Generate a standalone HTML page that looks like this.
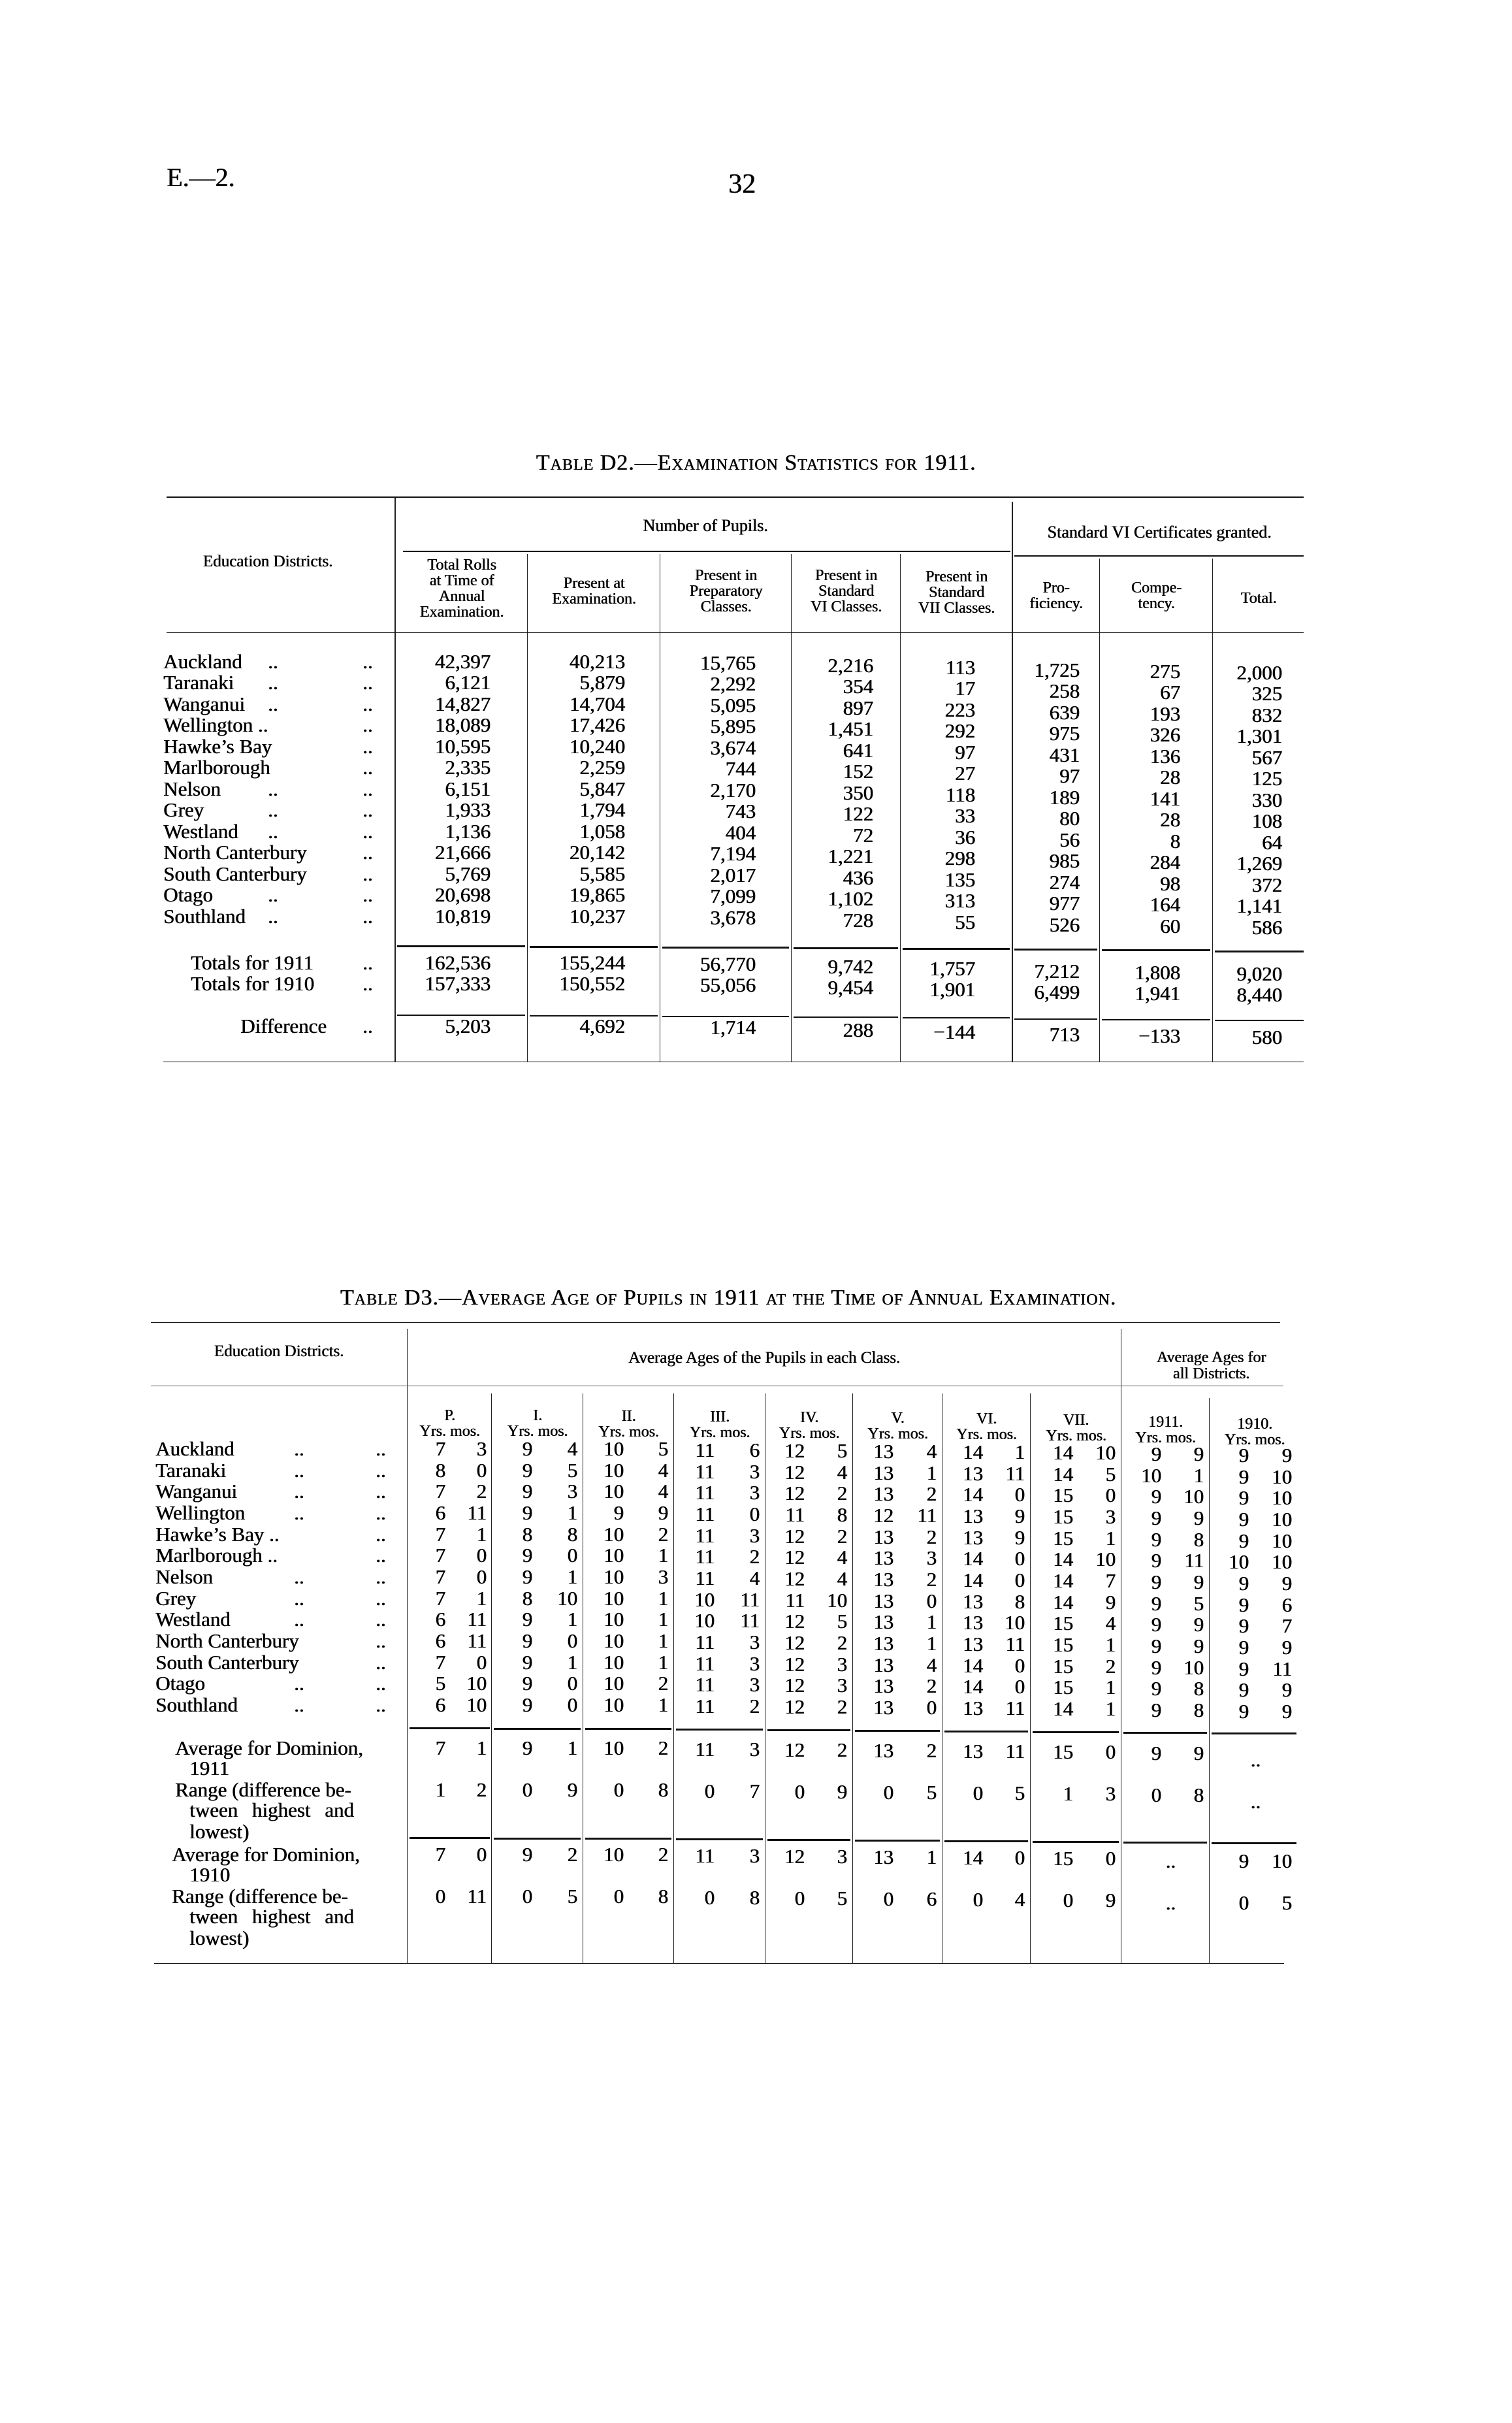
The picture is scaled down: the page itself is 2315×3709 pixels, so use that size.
<!DOCTYPE html>
<html><head><meta charset="utf-8"><style>
body{margin:0;background:#fff}
#p{position:relative;width:2315px;height:3709px;overflow:hidden;background:#fff;font-family:"Liberation Serif",serif;color:#000;text-shadow:0.6px 0 0 #000}
#p div,#p span{position:absolute;white-space:nowrap}
.r{height:32px;line-height:32px;font-size:31px;left:0;width:2315px}
.h{font-size:24px;line-height:24px;text-align:center}
.hl{background:#111;height:2px}
.vl{background:#222;width:2px}
.sc{font-variant:small-caps}
.a1{right:1564px}.a2{right:1358px}.a3{right:1158px;top:2px}.a4{right:978px;top:6px}.a5{right:822px;top:9px}.a6{right:662px;top:13px}.a7{right:508px;top:15px}.a8{right:352px;top:17px}
.y0{right:1633px}.m0{right:1570px}
.y1{right:1500px}.m1{right:1431px}
.y2{right:1360px}.m2{right:1292px}
.y3{right:1221px;top:2px}.m3{right:1152px;top:2px}
.y4{right:1083px;top:3px}.m4{right:1018px;top:3px}
.y5{right:947px;top:4px}.m5{right:881px;top:4px}
.y6{right:810px;top:5px}.m6{right:746px;top:5px}
.y7{right:672px;top:6px}.m7{right:607px;top:6px}
.y8{right:537px;top:8px}.m8{right:472px;top:8px}
.y9{right:403px;top:10px}.m9{right:337px;top:10px}
</style></head><body><div id="p">
<div style="left:255px;top:248px;font-size:40px">E.—2.</div>
<div style="left:1115px;top:258px;font-size:42px">32</div>

<div class="sc" style="left:0;width:2315px;text-align:center;top:690px;font-size:34px;letter-spacing:1px">Table D2.—Examination Statistics for 1911.</div>
<div class="hl" style="left:255px;width:1741px;top:760px"></div>
<div class="vl" style="left:604px;top:762px;height:864px"></div>
<div class="vl" style="left:1549px;top:768px;height:858px"></div>
<div class="h" style="left:920px;width:320px;top:793px;font-size:26px">Number of Pupils.</div>
<div class="h" style="left:1550px;width:450px;top:803px;font-size:26px">Standard VI Certificates granted.</div>
<div class="hl" style="left:617px;width:930px;top:843px;height:2px"></div>
<div class="hl" style="left:1553px;width:443px;top:850px;height:2px"></div>
<div class="h" style="left:255px;width:310px;top:848px;font-size:25px">Education Districts.</div>
<div class="h" style="left:606px;width:202px;top:853px">Total Rolls<br>at Time of<br>Annual<br>Examination.</div>
<div class="h" style="left:808px;width:203px;top:881px">Present at<br>Examination.</div>
<div class="h" style="left:1011px;width:201px;top:869px">Present in<br>Preparatory<br>Classes.</div>
<div class="h" style="left:1212px;width:167px;top:869px">Present in<br>Standard<br>VI Classes.</div>
<div class="h" style="left:1379px;width:171px;top:871px">Present in<br>Standard<br>VII Classes.</div>
<div class="h" style="left:1550px;width:134px;top:888px">Pro-<br>ficiency.</div>
<div class="h" style="left:1684px;width:173px;top:888px">Compe-<br>tency.</div>
<div class="h" style="left:1857px;width:140px;top:904px">Total.</div>
<div class="vl" style="left:807px;top:848px;height:778px;width:1px"></div>
<div class="vl" style="left:1010px;top:848px;height:778px;width:1px"></div>
<div class="vl" style="left:1211px;top:848px;height:778px;width:1px"></div>
<div class="vl" style="left:1378px;top:848px;height:778px;width:1px"></div>
<div class="vl" style="left:1683px;top:855px;height:771px;width:1px"></div>
<div class="vl" style="left:1856px;top:855px;height:771px;width:1px"></div>
<div class="hl" style="left:255px;width:1741px;top:968px;height:1px"></div>

<div class="r" style="top:997px"><span style="left:250px">Auckland</span><span style="left:410px">..</span><span style="left:555px">..</span><span class="a1">42,397</span><span class="a2">40,213</span><span class="a3">15,765</span><span class="a4">2,216</span><span class="a5">113</span><span class="a6">1,725</span><span class="a7">275</span><span class="a8">2,000</span></div>
<div class="r" style="top:1029px"><span style="left:250px">Taranaki</span><span style="left:410px">..</span><span style="left:555px">..</span><span class="a1">6,121</span><span class="a2">5,879</span><span class="a3">2,292</span><span class="a4">354</span><span class="a5">17</span><span class="a6">258</span><span class="a7">67</span><span class="a8">325</span></div>
<div class="r" style="top:1062px"><span style="left:250px">Wanganui</span><span style="left:410px">..</span><span style="left:555px">..</span><span class="a1">14,827</span><span class="a2">14,704</span><span class="a3">5,095</span><span class="a4">897</span><span class="a5">223</span><span class="a6">639</span><span class="a7">193</span><span class="a8">832</span></div>
<div class="r" style="top:1094px"><span style="left:250px">Wellington ..</span><span style="left:555px">..</span><span class="a1">18,089</span><span class="a2">17,426</span><span class="a3">5,895</span><span class="a4">1,451</span><span class="a5">292</span><span class="a6">975</span><span class="a7">326</span><span class="a8">1,301</span></div>
<div class="r" style="top:1127px"><span style="left:250px">Hawke’s Bay</span><span style="left:555px">..</span><span class="a1">10,595</span><span class="a2">10,240</span><span class="a3">3,674</span><span class="a4">641</span><span class="a5">97</span><span class="a6">431</span><span class="a7">136</span><span class="a8">567</span></div>
<div class="r" style="top:1159px"><span style="left:250px">Marlborough</span><span style="left:555px">..</span><span class="a1">2,335</span><span class="a2">2,259</span><span class="a3">744</span><span class="a4">152</span><span class="a5">27</span><span class="a6">97</span><span class="a7">28</span><span class="a8">125</span></div>
<div class="r" style="top:1192px"><span style="left:250px">Nelson</span><span style="left:410px">..</span><span style="left:555px">..</span><span class="a1">6,151</span><span class="a2">5,847</span><span class="a3">2,170</span><span class="a4">350</span><span class="a5">118</span><span class="a6">189</span><span class="a7">141</span><span class="a8">330</span></div>
<div class="r" style="top:1224px"><span style="left:250px">Grey</span><span style="left:410px">..</span><span style="left:555px">..</span><span class="a1">1,933</span><span class="a2">1,794</span><span class="a3">743</span><span class="a4">122</span><span class="a5">33</span><span class="a6">80</span><span class="a7">28</span><span class="a8">108</span></div>
<div class="r" style="top:1257px"><span style="left:250px">Westland</span><span style="left:410px">..</span><span style="left:555px">..</span><span class="a1">1,136</span><span class="a2">1,058</span><span class="a3">404</span><span class="a4">72</span><span class="a5">36</span><span class="a6">56</span><span class="a7">8</span><span class="a8">64</span></div>
<div class="r" style="top:1289px"><span style="left:250px">North Canterbury</span><span style="left:555px">..</span><span class="a1">21,666</span><span class="a2">20,142</span><span class="a3">7,194</span><span class="a4">1,221</span><span class="a5">298</span><span class="a6">985</span><span class="a7">284</span><span class="a8">1,269</span></div>
<div class="r" style="top:1322px"><span style="left:250px">South Canterbury</span><span style="left:555px">..</span><span class="a1">5,769</span><span class="a2">5,585</span><span class="a3">2,017</span><span class="a4">436</span><span class="a5">135</span><span class="a6">274</span><span class="a7">98</span><span class="a8">372</span></div>
<div class="r" style="top:1354px"><span style="left:250px">Otago</span><span style="left:410px">..</span><span style="left:555px">..</span><span class="a1">20,698</span><span class="a2">19,865</span><span class="a3">7,099</span><span class="a4">1,102</span><span class="a5">313</span><span class="a6">977</span><span class="a7">164</span><span class="a8">1,141</span></div>
<div class="r" style="top:1387px"><span style="left:250px">Southland</span><span style="left:410px">..</span><span style="left:555px">..</span><span class="a1">10,819</span><span class="a2">10,237</span><span class="a3">3,678</span><span class="a4">728</span><span class="a5">55</span><span class="a6">526</span><span class="a7">60</span><span class="a8">586</span></div>

<div class="hl" style="left:608px;width:196px;top:1447px;height:3px"></div>
<div class="hl" style="left:811px;width:196px;top:1448px;height:3px"></div>
<div class="hl" style="left:1014px;width:194px;top:1449px;height:3px"></div>
<div class="hl" style="left:1215px;width:160px;top:1450px;height:3px"></div>
<div class="hl" style="left:1382px;width:164px;top:1451px;height:3px"></div>
<div class="hl" style="left:1553px;width:127px;top:1452px;height:3px"></div>
<div class="hl" style="left:1687px;width:166px;top:1453px;height:3px"></div>
<div class="hl" style="left:1860px;width:136px;top:1455px;height:3px"></div>

<div class="r" style="top:1458px"><span style="left:292px">Totals for 1911</span><span style="left:555px">..</span><span class="a1">162,536</span><span class="a2">155,244</span><span class="a3">56,770</span><span class="a4">9,742</span><span class="a5">1,757</span><span class="a6">7,212</span><span class="a7">1,808</span><span class="a8">9,020</span></div>
<div class="r" style="top:1490px"><span style="left:292px">Totals for 1910</span><span style="left:555px">..</span><span class="a1">157,333</span><span class="a2">150,552</span><span class="a3">55,056</span><span class="a4">9,454</span><span class="a5">1,901</span><span class="a6">6,499</span><span class="a7">1,941</span><span class="a8">8,440</span></div>

<div class="hl" style="left:608px;width:196px;top:1553px"></div>
<div class="hl" style="left:811px;width:196px;top:1554px"></div>
<div class="hl" style="left:1014px;width:194px;top:1555px"></div>
<div class="hl" style="left:1215px;width:160px;top:1556px"></div>
<div class="hl" style="left:1382px;width:164px;top:1557px"></div>
<div class="hl" style="left:1553px;width:127px;top:1559px"></div>
<div class="hl" style="left:1687px;width:166px;top:1560px"></div>
<div class="hl" style="left:1860px;width:136px;top:1561px"></div>

<div class="r" style="top:1555px"><span style="left:368px">Difference</span><span style="left:555px">..</span><span class="a1">5,203</span><span class="a2">4,692</span><span class="a3">1,714</span><span class="a4">288</span><span class="a5">−144</span><span class="a6">713</span><span class="a7">−133</span><span class="a8">580</span></div>
<div class="hl" style="left:250px;width:1746px;top:1625px;height:1px"></div>

<div class="sc" style="left:0;width:2230px;text-align:center;top:1968px;font-size:34px;letter-spacing:1px">Table D3.—Average Age of Pupils in 1911 at the Time of Annual Examination.</div>
<div class="hl" style="left:231px;width:1729px;top:2024px;height:1px"></div>
<div class="vl" style="left:623px;top:2034px;height:972px;width:1px"></div>
<div class="vl" style="left:1716px;top:2034px;height:972px;width:1px"></div>
<div class="h" style="left:231px;width:392px;top:2057px;font-size:25px">Education Districts.</div>
<div class="h" style="left:624px;width:1092px;top:2067px;font-size:25px">Average Ages of the Pupils in each Class.</div>
<div class="h" style="left:1717px;width:275px;top:2066px;font-size:24px;line-height:25px">Average Ages for<br>all Districts.</div>
<div class="hl" style="left:231px;width:1734px;top:2121px;height:1px;background:#555"></div>

<div class="vl" style="left:752px;top:2133px;height:872px;width:1px"></div>
<div class="vl" style="left:892px;top:2133px;height:872px;width:1px"></div>
<div class="vl" style="left:1031px;top:2133px;height:872px;width:1px"></div>
<div class="vl" style="left:1171px;top:2133px;height:872px;width:1px"></div>
<div class="vl" style="left:1305px;top:2133px;height:872px;width:1px"></div>
<div class="vl" style="left:1442px;top:2133px;height:872px;width:1px"></div>
<div class="vl" style="left:1577px;top:2133px;height:872px;width:1px"></div>
<div class="vl" style="left:1851px;top:2140px;height:865px;width:1px"></div>

<div class="h" style="left:624px;width:129px;top:2155px">P.<br>Yrs. mos.</div>
<div class="h" style="left:753px;width:140px;top:2155px">I.<br>Yrs. mos.</div>
<div class="h" style="left:893px;width:139px;top:2156px">II.<br>Yrs. mos.</div>
<div class="h" style="left:1032px;width:140px;top:2157px">III.<br>Yrs. mos.</div>
<div class="h" style="left:1172px;width:134px;top:2158px">IV.<br>Yrs. mos.</div>
<div class="h" style="left:1306px;width:137px;top:2159px">V.<br>Yrs. mos.</div>
<div class="h" style="left:1443px;width:135px;top:2160px">VI.<br>Yrs. mos.</div>
<div class="h" style="left:1578px;width:139px;top:2162px">VII.<br>Yrs. mos.</div>
<div class="h" style="left:1717px;width:135px;top:2165px">1911.<br>Yrs. mos.</div>
<div class="h" style="left:1852px;width:138px;top:2168px">1910.<br>Yrs. mos.</div>

<div class="r" style="top:2202px"><span style="left:238px">Auckland</span><span style="left:450px">..</span><span style="left:575px">..</span><span class="y0">7</span><span class="m0">3</span><span class="y1">9</span><span class="m1">4</span><span class="y2">10</span><span class="m2">5</span><span class="y3">11</span><span class="m3">6</span><span class="y4">12</span><span class="m4">5</span><span class="y5">13</span><span class="m5">4</span><span class="y6">14</span><span class="m6">1</span><span class="y7">14</span><span class="m7">10</span><span class="y8">9</span><span class="m8">9</span><span class="y9">9</span><span class="m9">9</span></div>
<div class="r" style="top:2235px"><span style="left:238px">Taranaki</span><span style="left:450px">..</span><span style="left:575px">..</span><span class="y0">8</span><span class="m0">0</span><span class="y1">9</span><span class="m1">5</span><span class="y2">10</span><span class="m2">4</span><span class="y3">11</span><span class="m3">3</span><span class="y4">12</span><span class="m4">4</span><span class="y5">13</span><span class="m5">1</span><span class="y6">13</span><span class="m6">11</span><span class="y7">14</span><span class="m7">5</span><span class="y8">10</span><span class="m8">1</span><span class="y9">9</span><span class="m9">10</span></div>
<div class="r" style="top:2267px"><span style="left:238px">Wanganui</span><span style="left:450px">..</span><span style="left:575px">..</span><span class="y0">7</span><span class="m0">2</span><span class="y1">9</span><span class="m1">3</span><span class="y2">10</span><span class="m2">4</span><span class="y3">11</span><span class="m3">3</span><span class="y4">12</span><span class="m4">2</span><span class="y5">13</span><span class="m5">2</span><span class="y6">14</span><span class="m6">0</span><span class="y7">15</span><span class="m7">0</span><span class="y8">9</span><span class="m8">10</span><span class="y9">9</span><span class="m9">10</span></div>
<div class="r" style="top:2300px"><span style="left:238px">Wellington</span><span style="left:450px">..</span><span style="left:575px">..</span><span class="y0">6</span><span class="m0">11</span><span class="y1">9</span><span class="m1">1</span><span class="y2">9</span><span class="m2">9</span><span class="y3">11</span><span class="m3">0</span><span class="y4">11</span><span class="m4">8</span><span class="y5">12</span><span class="m5">11</span><span class="y6">13</span><span class="m6">9</span><span class="y7">15</span><span class="m7">3</span><span class="y8">9</span><span class="m8">9</span><span class="y9">9</span><span class="m9">10</span></div>
<div class="r" style="top:2333px"><span style="left:238px">Hawke’s Bay ..</span><span style="left:575px">..</span><span class="y0">7</span><span class="m0">1</span><span class="y1">8</span><span class="m1">8</span><span class="y2">10</span><span class="m2">2</span><span class="y3">11</span><span class="m3">3</span><span class="y4">12</span><span class="m4">2</span><span class="y5">13</span><span class="m5">2</span><span class="y6">13</span><span class="m6">9</span><span class="y7">15</span><span class="m7">1</span><span class="y8">9</span><span class="m8">8</span><span class="y9">9</span><span class="m9">10</span></div>
<div class="r" style="top:2365px"><span style="left:238px">Marlborough ..</span><span style="left:575px">..</span><span class="y0">7</span><span class="m0">0</span><span class="y1">9</span><span class="m1">0</span><span class="y2">10</span><span class="m2">1</span><span class="y3">11</span><span class="m3">2</span><span class="y4">12</span><span class="m4">4</span><span class="y5">13</span><span class="m5">3</span><span class="y6">14</span><span class="m6">0</span><span class="y7">14</span><span class="m7">10</span><span class="y8">9</span><span class="m8">11</span><span class="y9">10</span><span class="m9">10</span></div>
<div class="r" style="top:2398px"><span style="left:238px">Nelson</span><span style="left:450px">..</span><span style="left:575px">..</span><span class="y0">7</span><span class="m0">0</span><span class="y1">9</span><span class="m1">1</span><span class="y2">10</span><span class="m2">3</span><span class="y3">11</span><span class="m3">4</span><span class="y4">12</span><span class="m4">4</span><span class="y5">13</span><span class="m5">2</span><span class="y6">14</span><span class="m6">0</span><span class="y7">14</span><span class="m7">7</span><span class="y8">9</span><span class="m8">9</span><span class="y9">9</span><span class="m9">9</span></div>
<div class="r" style="top:2431px"><span style="left:238px">Grey</span><span style="left:450px">..</span><span style="left:575px">..</span><span class="y0">7</span><span class="m0">1</span><span class="y1">8</span><span class="m1">10</span><span class="y2">10</span><span class="m2">1</span><span class="y3">10</span><span class="m3">11</span><span class="y4">11</span><span class="m4">10</span><span class="y5">13</span><span class="m5">0</span><span class="y6">13</span><span class="m6">8</span><span class="y7">14</span><span class="m7">9</span><span class="y8">9</span><span class="m8">5</span><span class="y9">9</span><span class="m9">6</span></div>
<div class="r" style="top:2463px"><span style="left:238px">Westland</span><span style="left:450px">..</span><span style="left:575px">..</span><span class="y0">6</span><span class="m0">11</span><span class="y1">9</span><span class="m1">1</span><span class="y2">10</span><span class="m2">1</span><span class="y3">10</span><span class="m3">11</span><span class="y4">12</span><span class="m4">5</span><span class="y5">13</span><span class="m5">1</span><span class="y6">13</span><span class="m6">10</span><span class="y7">15</span><span class="m7">4</span><span class="y8">9</span><span class="m8">9</span><span class="y9">9</span><span class="m9">7</span></div>
<div class="r" style="top:2496px"><span style="left:238px">North Canterbury</span><span style="left:575px">..</span><span class="y0">6</span><span class="m0">11</span><span class="y1">9</span><span class="m1">0</span><span class="y2">10</span><span class="m2">1</span><span class="y3">11</span><span class="m3">3</span><span class="y4">12</span><span class="m4">2</span><span class="y5">13</span><span class="m5">1</span><span class="y6">13</span><span class="m6">11</span><span class="y7">15</span><span class="m7">1</span><span class="y8">9</span><span class="m8">9</span><span class="y9">9</span><span class="m9">9</span></div>
<div class="r" style="top:2529px"><span style="left:238px">South Canterbury</span><span style="left:575px">..</span><span class="y0">7</span><span class="m0">0</span><span class="y1">9</span><span class="m1">1</span><span class="y2">10</span><span class="m2">1</span><span class="y3">11</span><span class="m3">3</span><span class="y4">12</span><span class="m4">3</span><span class="y5">13</span><span class="m5">4</span><span class="y6">14</span><span class="m6">0</span><span class="y7">15</span><span class="m7">2</span><span class="y8">9</span><span class="m8">10</span><span class="y9">9</span><span class="m9">11</span></div>
<div class="r" style="top:2561px"><span style="left:238px">Otago</span><span style="left:450px">..</span><span style="left:575px">..</span><span class="y0">5</span><span class="m0">10</span><span class="y1">9</span><span class="m1">0</span><span class="y2">10</span><span class="m2">2</span><span class="y3">11</span><span class="m3">3</span><span class="y4">12</span><span class="m4">3</span><span class="y5">13</span><span class="m5">2</span><span class="y6">14</span><span class="m6">0</span><span class="y7">15</span><span class="m7">1</span><span class="y8">9</span><span class="m8">8</span><span class="y9">9</span><span class="m9">9</span></div>
<div class="r" style="top:2594px"><span style="left:238px">Southland</span><span style="left:450px">..</span><span style="left:575px">..</span><span class="y0">6</span><span class="m0">10</span><span class="y1">9</span><span class="m1">0</span><span class="y2">10</span><span class="m2">1</span><span class="y3">11</span><span class="m3">2</span><span class="y4">12</span><span class="m4">2</span><span class="y5">13</span><span class="m5">0</span><span class="y6">13</span><span class="m6">11</span><span class="y7">14</span><span class="m7">1</span><span class="y8">9</span><span class="m8">8</span><span class="y9">9</span><span class="m9">9</span></div>

<div class="hl" style="left:627px;width:123px;top:2644px;height:3px"></div>
<div class="hl" style="left:756px;width:133px;top:2645px;height:3px"></div>
<div class="hl" style="left:896px;width:132px;top:2645px;height:3px"></div>
<div class="hl" style="left:1035px;width:133px;top:2646px;height:3px"></div>
<div class="hl" style="left:1175px;width:127px;top:2647px;height:3px"></div>
<div class="hl" style="left:1309px;width:130px;top:2648px;height:3px"></div>
<div class="hl" style="left:1446px;width:128px;top:2649px;height:3px"></div>
<div class="hl" style="left:1581px;width:132px;top:2650px;height:3px"></div>
<div class="hl" style="left:1720px;width:128px;top:2651px;height:3px"></div>
<div class="hl" style="left:1855px;width:130px;top:2652px;height:3px"></div>

<div class="r" style="top:2660px"><span style="left:268px">Average for Dominion,</span><span class="y0">7</span><span class="m0">1</span><span class="y1">9</span><span class="m1">1</span><span class="y2">10</span><span class="m2">2</span><span class="y3">11</span><span class="m3">3</span><span class="y4">12</span><span class="m4">2</span><span class="y5">13</span><span class="m5">2</span><span class="y6">13</span><span class="m6">11</span><span class="y7">15</span><span class="m7">0</span><span class="y8">9</span><span class="m8">9</span><span style="right:385px;top:18px">..</span></div>
<div class="r" style="top:2691px"><span style="left:290px">1911</span></div>
<div class="r" style="top:2724px"><span style="left:268px">Range (difference be-</span><span class="y0">1</span><span class="m0">2</span><span class="y1">0</span><span class="m1">9</span><span class="y2">0</span><span class="m2">8</span><span class="y3">0</span><span class="m3">7</span><span class="y4">0</span><span class="m4">9</span><span class="y5">0</span><span class="m5">5</span><span class="y6">0</span><span class="m6">5</span><span class="y7">1</span><span class="m7">3</span><span class="y8">0</span><span class="m8">8</span><span style="right:385px;top:18px">..</span></div>
<div class="r" style="top:2755px"><span style="left:290px;word-spacing:14px">tween highest and</span></div>
<div class="r" style="top:2788px"><span style="left:290px">lowest)</span></div>

<div class="hl" style="left:627px;width:123px;top:2812px;height:3px"></div>
<div class="hl" style="left:756px;width:133px;top:2813px;height:3px"></div>
<div class="hl" style="left:896px;width:132px;top:2813px;height:3px"></div>
<div class="hl" style="left:1035px;width:133px;top:2814px;height:3px"></div>
<div class="hl" style="left:1175px;width:127px;top:2815px;height:3px"></div>
<div class="hl" style="left:1309px;width:130px;top:2816px;height:3px"></div>
<div class="hl" style="left:1446px;width:128px;top:2817px;height:3px"></div>
<div class="hl" style="left:1581px;width:132px;top:2818px;height:3px"></div>
<div class="hl" style="left:1720px;width:128px;top:2819px;height:3px"></div>
<div class="hl" style="left:1855px;width:130px;top:2820px;height:3px"></div>

<div class="r" style="top:2823px"><span style="left:263px">Average for Dominion,</span><span class="y0">7</span><span class="m0">0</span><span class="y1">9</span><span class="m1">2</span><span class="y2">10</span><span class="m2">2</span><span class="y3">11</span><span class="m3">3</span><span class="y4">12</span><span class="m4">3</span><span class="y5">13</span><span class="m5">1</span><span class="y6">14</span><span class="m6">0</span><span class="y7">15</span><span class="m7">0</span><span style="right:515px;top:10px">..</span><span class="y9">9</span><span class="m9">10</span></div>
<div class="r" style="top:2854px"><span style="left:290px">1910</span></div>
<div class="r" style="top:2887px"><span style="left:263px">Range (difference be-</span><span class="y0">0</span><span class="m0">11</span><span class="y1">0</span><span class="m1">5</span><span class="y2">0</span><span class="m2">8</span><span class="y3">0</span><span class="m3">8</span><span class="y4">0</span><span class="m4">5</span><span class="y5">0</span><span class="m5">6</span><span class="y6">0</span><span class="m6">4</span><span class="y7">0</span><span class="m7">9</span><span style="right:515px;top:10px">..</span><span class="y9">0</span><span class="m9">5</span></div>
<div class="r" style="top:2918px"><span style="left:290px;word-spacing:14px">tween highest and</span></div>
<div class="r" style="top:2951px"><span style="left:290px">lowest)</span></div>
<div class="hl" style="left:236px;width:1730px;top:3005px;height:1px"></div>
</div></body></html>
